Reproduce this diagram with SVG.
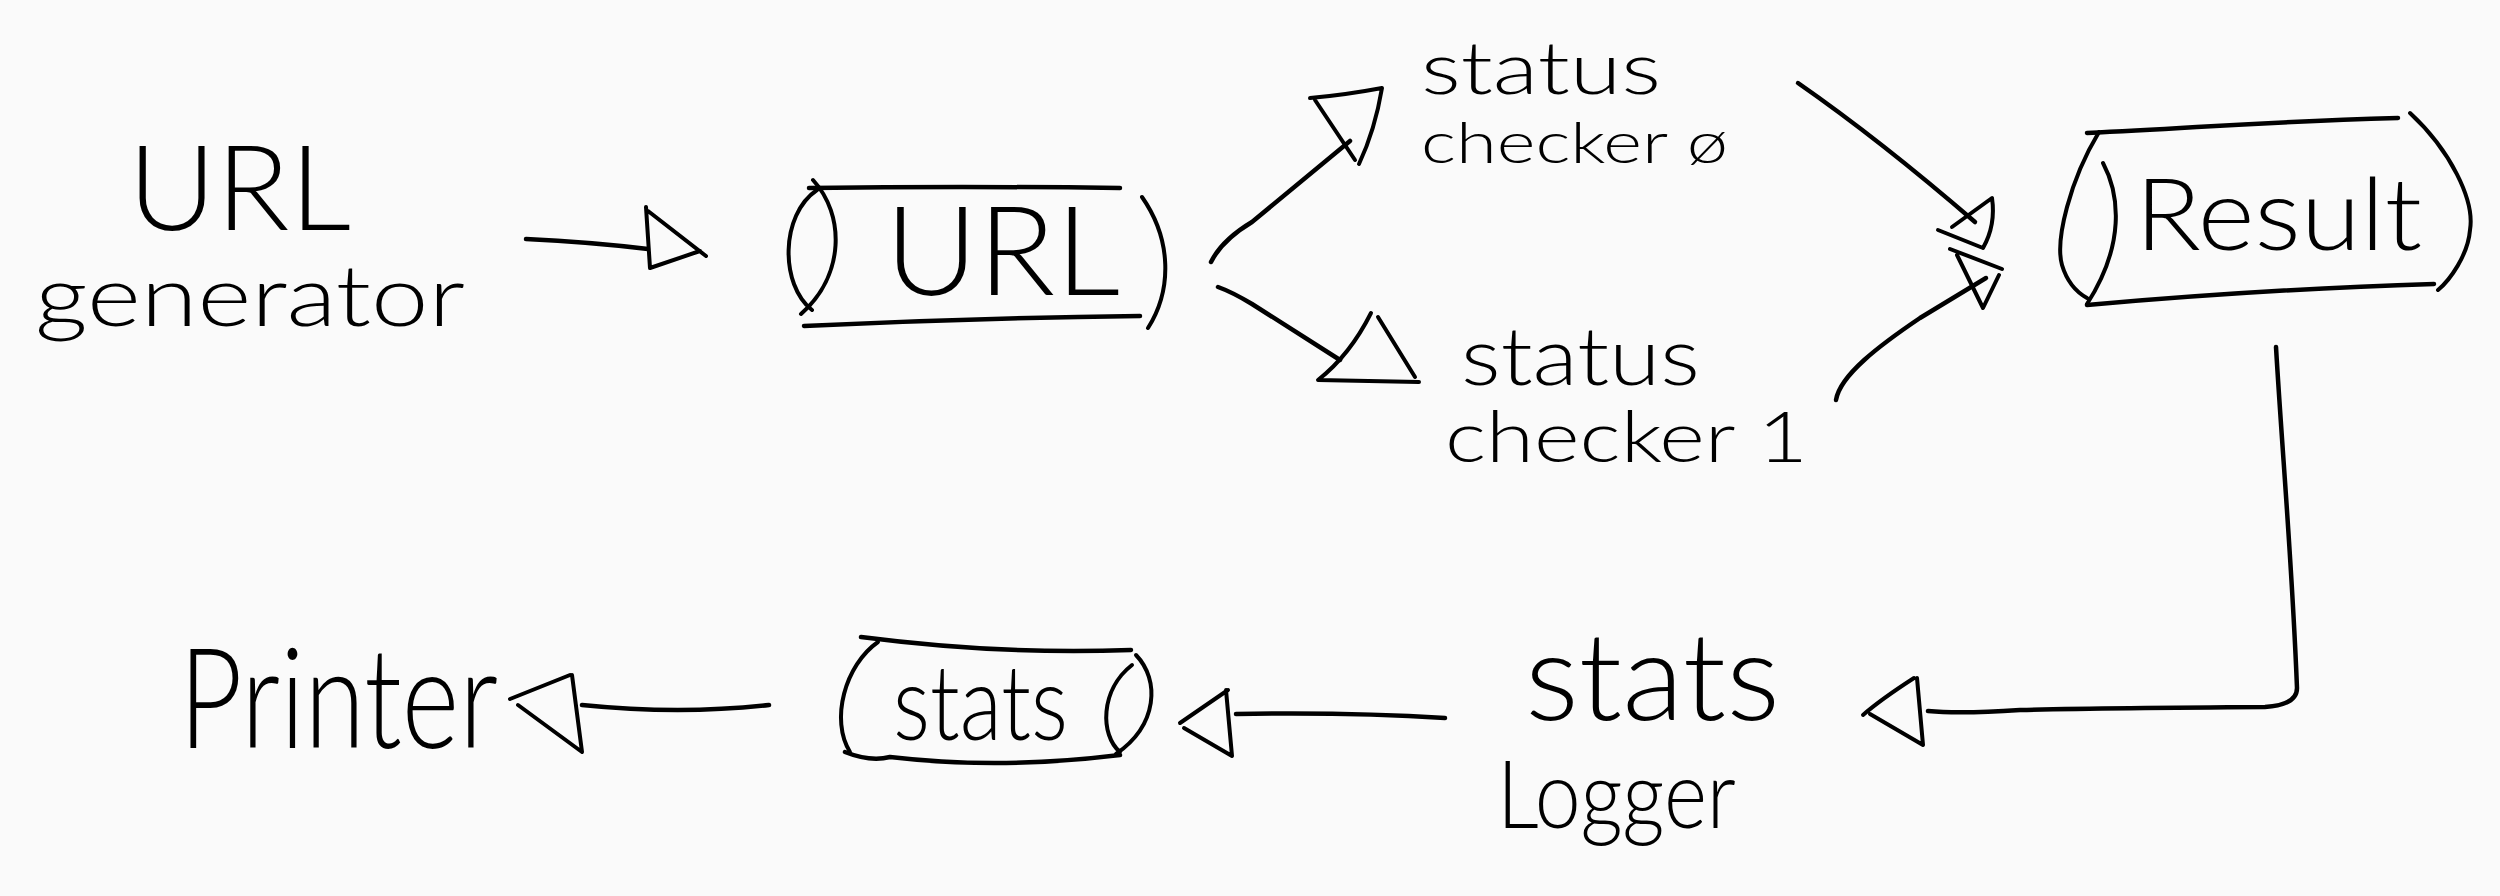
<svg xmlns="http://www.w3.org/2000/svg" width="2500" height="896" viewBox="0 0 2500 896">
<style>
.ln{fill:none;stroke:#000;stroke-width:4.5;stroke-linecap:round;stroke-linejoin:round}
.hd{fill:none;stroke:#000;stroke-width:4;stroke-linecap:round;stroke-linejoin:round}
.tx{font-family:Lato,"DejaVu Sans",sans-serif;font-weight:300;fill:#000}
</style>
<rect width="2500" height="896" fill="#fafafa"/>
<g id="connectors">
<path class="ln" d="M526,239 Q590,242 648,249"/>
<path class="hd" d="M646,207 L650,268 L700,251 M648,211 L706,256"/>
<path class="ln" d="M1211,262 Q1222,240 1252,222 L1350,141"/>
<path class="hd" d="M1310,98 Q1345,95 1382,88 Q1375,130 1359,164 M1315,100 L1355,160"/>
<path class="ln" d="M1218,287 Q1232,292 1252,304 L1340,360"/>
<path class="hd" d="M1371,313 Q1350,355 1318,380 L1419,382 M1378,317 L1415,377"/>
<path class="ln" d="M1798,83 Q1880,140 1975,222"/>
<path class="hd" d="M1952,227 L1992,198 Q1996,225 1983,248 L1938,230"/>
<path class="ln" d="M1836,400 C1840,375 1880,345 1920,318 L1986,278"/>
<path class="hd" d="M1950,249 L2002,269 M1957,255 L1983,308 L1999,275"/>
<path class="ln" d="M2276,347 C2282,450 2292,560 2297,688 Q2297,705 2265,707 Q2100,708 2020,710 Q1960,714 1928,711"/>
<path class="hd" d="M1914,678 Q1880,700 1863,715 M1870,714 L1923,745 L1917,678"/>
<path class="ln" d="M1445,718 Q1350,712 1236,714"/>
<path class="hd" d="M1228,690 L1180,723 M1184,728 L1232,756 L1226,690"/>
<path class="ln" d="M769,705 Q680,715 582,705"/>
<path class="hd" d="M570,675 L510,699 M518,705 L582,752 L572,675"/>
</g>
<g id="url-generator">
<text class="tx" x="128" y="230" font-size="118" textLength="223" lengthAdjust="spacingAndGlyphs">URL</text>
<text class="tx" x="35" y="326" font-size="84" textLength="430" lengthAdjust="spacingAndGlyphs">generator</text>
</g>
<g id="url-queue">
<path class="ln" d="M809,188 Q960,186 1120,188"/>
<path class="ln" d="M804,326 Q970,318 1140,316"/>
<path class="hd" d="M813,180 C845,215 845,275 801,314 M817,190 C780,215 780,285 812,310"/>
<path class="hd" d="M1142,197 C1172,240 1172,290 1148,328"/>
<text class="tx" x="885" y="295" font-size="125" textLength="235" lengthAdjust="spacingAndGlyphs">URL</text>
</g>
<g id="status-checker-0">
<text class="tx" x="1421" y="94" font-size="72" textLength="240" lengthAdjust="spacingAndGlyphs">status</text>
<text class="tx" x="1421" y="163" font-size="58" textLength="307" lengthAdjust="spacingAndGlyphs">checker ø</text>
</g>
<g id="status-checker-1">
<text class="tx" x="1461" y="385" font-size="80" textLength="239" lengthAdjust="spacingAndGlyphs">status</text>
<text class="tx" x="1445" y="462" font-size="70" textLength="363" lengthAdjust="spacingAndGlyphs">checker 1</text>
</g>
<g id="result">
<path class="ln" d="M2087,133 C2200,128 2250,122 2398,118"/>
<path class="ln" d="M2087,305 C2200,295 2300,288 2434,284"/>
<path class="hd" d="M2099,132 C2070,180 2055,240 2062,265 C2068,285 2078,293 2087,298 M2103,163 C2120,195 2125,245 2087,304"/>
<path class="hd" d="M2410,113 C2450,150 2475,200 2470,230 C2468,255 2450,280 2438,290"/>
<text class="tx" x="2135" y="250" font-size="100" textLength="287" lengthAdjust="spacingAndGlyphs">Result</text>
</g>
<g id="stats-logger">
<text class="tx" x="1525" y="720" font-size="122" textLength="255" lengthAdjust="spacingAndGlyphs">stats</text>
<text class="tx" x="1497" y="828" font-size="94" textLength="239" lengthAdjust="spacingAndGlyphs">Logger</text>
</g>
<g id="stats">
<path class="ln" d="M861,637 Q1000,655 1131,650"/>
<path class="ln" d="M845,752 Q870,762 890,757 Q1000,770 1120,755"/>
<path class="hd" d="M878,642 C845,665 830,720 850,752"/>
<path class="hd" d="M1136,655 C1160,680 1158,725 1116,754 M1132,665 C1100,690 1100,735 1120,752"/>
<text class="tx" x="893" y="740" font-size="105" textLength="175" lengthAdjust="spacingAndGlyphs">stats</text>
</g>
<g id="printer">
<text class="tx" x="179" y="748" font-size="140" textLength="319" lengthAdjust="spacingAndGlyphs">Printer</text>
</g>
</svg>
